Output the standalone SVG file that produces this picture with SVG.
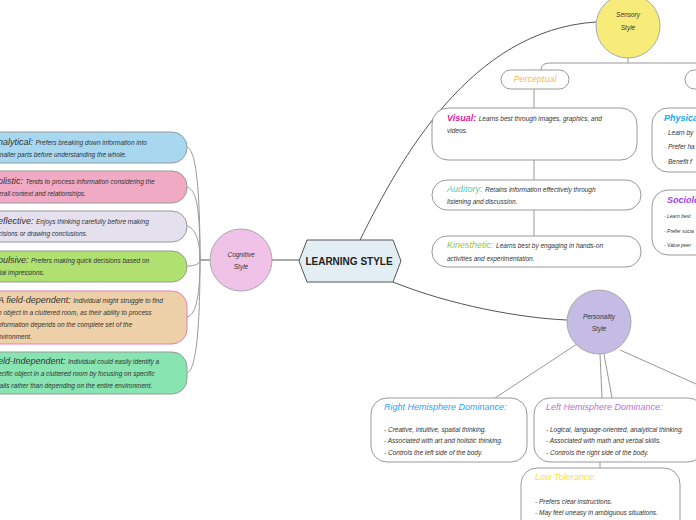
<svg xmlns="http://www.w3.org/2000/svg" width="696" height="520" viewBox="0 0 696 520">
<style>
text{font-family:"Liberation Sans",Arial,sans-serif;font-style:italic;fill:#333;}
.s{font-size:6.5px}
.h{font-size:9px}
.box{fill:#fff;stroke:#999;stroke-width:1}
.c{fill:none;stroke:#999;stroke-width:1}
.d{fill:none;stroke:#555;stroke-width:1}
</style>
<rect width="696" height="520" fill="#fff"/>
<g id="connectors">
<path class="d" d="M360,240 C400,160 470,30 596,22"/>
<path class="d" d="M393,282 C450,305 520,318 567,320"/>
<path class="d" d="M272,260 H299"/>
<path class="d" d="M210,260 H200"/>
<path class="c" d="M200,260 C200,180 195,150 187,147 M200,260 C200,200 195,190 187,187 M200,260 C200,240 195,228 187,226 M200,260 C200,264 195,266 187,266 M200,260 C200,300 195,315 187,317 M200,260 C200,330 196,370 187,373"/>
<path class="c" d="M628,58 V63 M550,63 H696 M550,63 Q541,63 541,70 M534,89 V236"/>
<path class="c" d="M580,342 L495,398 M600,354 L602,398 M604,354 L612,398 M620,350 L696,384 M600,462 V468"/>
</g>
<g id="sensory"><circle cx="628" cy="26" r="32" fill="#f7ec7a" stroke="#aaa"/><text class="s" x="628" y="17" text-anchor="middle">Sensory</text><text class="s" x="628" y="30" text-anchor="middle">Style</text></g>
<g id="perceptual"><rect class="box" x="501" y="70" width="68" height="19" rx="9.5"/><text class="h" x="535" y="82" text-anchor="middle" style="fill:#f8b860">Perceptual</text></g>
<g id="other"><rect class="box" x="685" y="70" width="30" height="19" rx="9.5"/></g>
<g id="visual"><rect class="box" x="432" y="108" width="205" height="52" rx="16"/><text class="s" x="447" y="121"><tspan class="h" style="fill:#e020a0;font-weight:bold">Visual: </tspan>Learns best through images, graphics, and</text><text class="s" x="447" y="133">videos.</text></g>
<g id="auditory"><rect class="box" x="432" y="180" width="209" height="30" rx="15"/><text class="s" x="447" y="192"><tspan class="h" style="fill:#60c8a0">Auditory: </tspan>Retains information effectively through</text><text class="s" x="447" y="204">listening and discussion.</text></g>
<g id="kinesthetic"><rect class="box" x="432" y="236" width="209" height="31" rx="15"/><text class="s" x="447" y="248"><tspan class="h" style="fill:#90c840">Kinesthetic: </tspan>Learns best by engaging in hands-on</text><text class="s" x="447" y="261">activities and experimentation.</text></g>
<g id="physical"><rect class="box" x="652" y="108" width="70" height="64" rx="16"/><text class="h" x="664" y="121" style="fill:#20a8e8;font-weight:bold">Physical</text><text class="s" x="664" y="135"><tspan style="fill:#90c840">- </tspan>Learn by</text><text class="s" x="664" y="149"><tspan style="fill:#90c840">- </tspan>Prefer ha</text><text class="s" x="664" y="164"><tspan style="fill:#90c840">- </tspan>Benefit f</text></g>
<g id="sociological"><rect class="box" x="652" y="190" width="70" height="65" rx="16"/><text class="h" x="667" y="203" style="fill:#a040e8;font-weight:bold">Sociolog</text><text x="664" y="218" style="font-size:5px"><tspan style="fill:#a040e8">- </tspan>Learn best</text><text x="664" y="233" style="font-size:5px"><tspan style="fill:#a040e8">- </tspan>Prefer socia</text><text x="664" y="247" style="font-size:5px"><tspan style="fill:#a040e8">- </tspan>Value peer</text></g>
<g id="center"><polygon points="299,261 307,240 393,240 401,261 393,282 307,282" fill="#e3eef4" stroke="#555"/><text x="349" y="265" text-anchor="middle" style="font-size:10px;font-weight:bold;font-style:normal;fill:#222">LEARNING STYLE</text></g>
<g id="cognitive"><circle cx="241" cy="260" r="31" fill="#f0c2e8" stroke="#aaa"/><text class="s" x="241" y="257" text-anchor="middle">Cognitive</text><text class="s" x="241" y="269" text-anchor="middle">Style</text></g>
<g id="analytical"><rect x="-20" y="132" width="207" height="31" rx="15" fill="#a8d8f0" stroke="#999"/><text class="s" x="-2" y="145"><tspan class="h">nalytical: </tspan>Prefers breaking down information into</text><text class="s" x="-2" y="157">maller parts before understanding the whole.</text></g>
<g id="holistic"><rect x="-20" y="171" width="207" height="32" rx="15" fill="#f0aac4" stroke="#999"/><text class="s" x="-2" y="184"><tspan class="h">olistic: </tspan>Tends to process information considering the</text><text class="s" x="-2" y="196">erall context and relationships.</text></g>
<g id="reflective"><rect x="-20" y="211" width="207" height="31" rx="15" fill="#e4e0ee" stroke="#999"/><text class="s" x="-2" y="224"><tspan class="h">eflective: </tspan>Enjoys thinking carefully before making</text><text class="s" x="-2" y="236">cisions or drawing conclusions.</text></g>
<g id="impulsive"><rect x="-20" y="251" width="207" height="31" rx="15" fill="#b0e070" stroke="#999"/><text class="s" x="-2" y="263"><tspan class="h">pulsive: </tspan>Prefers making quick decisions based on</text><text class="s" x="-2" y="275">tial impressions.</text></g>
<g id="fielddep"><rect x="-20" y="291" width="207" height="53" rx="15" fill="#eed0a8" stroke="#e080c0"/><text class="s" x="-2" y="303"><tspan class="h">A field-dependent: </tspan>Individual might struggle to find</text><text class="s" x="-2" y="315">n object in a cluttered room, as their ability to process</text><text class="s" x="-2" y="327">nformation depends on the complete set of the</text><text class="s" x="-2" y="339">nvironment.</text></g>
<g id="fieldind"><rect x="-20" y="352" width="207" height="42" rx="15" fill="#88e4b0" stroke="#999"/><text class="s" x="-2" y="364"><tspan class="h">eld-Independent: </tspan>Individual could easily identify a</text><text class="s" x="-2" y="376">ecific object in a cluttered room by focusing on specific</text><text class="s" x="-2" y="388">tails rather than depending on the entire environment.</text></g>
<g id="personality"><circle cx="599" cy="322" r="32" fill="#c4bce4" stroke="#aaa"/><text class="s" x="599" y="319" text-anchor="middle">Personality</text><text class="s" x="599" y="331" text-anchor="middle">Style</text></g>
<g id="right"><rect class="box" x="371" y="398" width="156" height="64" rx="16"/><text class="h" x="384" y="410" style="fill:#30a0f0">Right Hemisphere Dominance:</text><text class="s" x="384" y="432">- Creative, intuitive, spatial thinking.</text><text class="s" x="384" y="443">- Associated with art and holistic thinking.</text><text class="s" x="384" y="455">- Controls the left side of the body.</text></g>
<g id="left"><rect class="box" x="534" y="398" width="170" height="64" rx="16"/><text class="h" x="546" y="410" style="fill:#c070d0">Left Hemisphere Dominance:</text><text class="s" x="546" y="432">- Logical, language-oriented, analytical thinking.</text><text class="s" x="546" y="443">- Associated with math and verbal skills.</text><text class="s" x="546" y="455">- Controls the right side of the body.</text></g>
<g id="lowtol"><rect class="box" x="521" y="468" width="159" height="70" rx="16"/><text class="h" x="535" y="480" style="fill:#f8e040">Low Tolerance:</text><text class="s" x="535" y="504">- Prefers clear instructions.</text><text class="s" x="535" y="515">- May feel uneasy in ambiguous situations.</text></g>
</svg>
